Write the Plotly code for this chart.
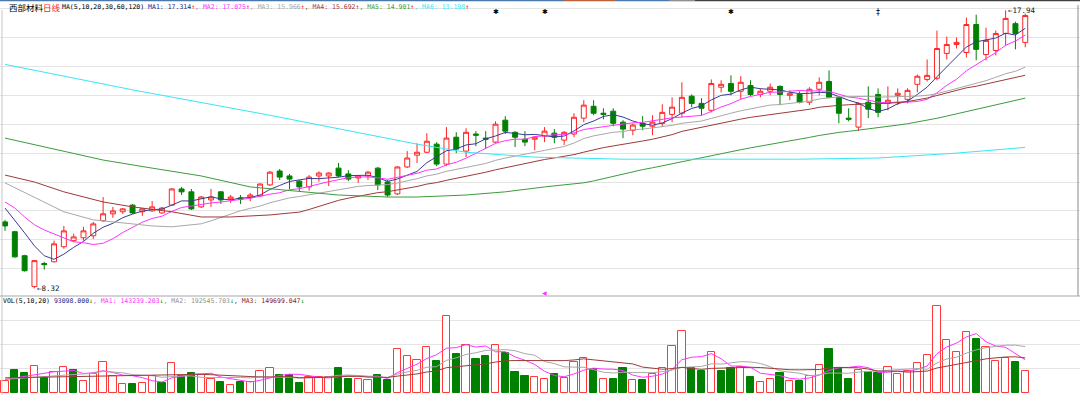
import plotly.graph_objects as go

# ---------------- data ----------------
opens = [10.62, 10.28, 9.45, 8.38, 9.18, 9.24, 9.76, 9.97, 10.07, 10.14,
         10.66, 10.90, 10.97, 11.20, 10.97, 11.00, 10.93, 11.20, 11.76, 11.66,
         11.14, 11.38, 11.66, 11.41, 11.45, 11.48, 11.52, 11.90, 12.38, 12.21,
         12.03, 11.83, 12.21, 12.21, 12.48, 12.28, 12.14, 12.21, 12.48, 12.00,
         11.59, 12.52, 12.93, 13.03, 13.31, 12.62, 13.55, 13.07, 13.66, 13.52,
         13.38, 14.14, 13.72, 13.48, 13.48, 13.59, 13.69, 13.45, 13.66, 14.21,
         14.62, 14.38, 14.45, 14.07, 13.79, 14.03, 13.93, 14.03, 14.34, 14.38,
         14.97, 14.72, 14.48, 15.28, 15.41, 15.14, 15.34, 15.03, 15.14, 15.31,
         15.00, 15.03, 14.76, 15.21, 15.48, 14.93, 14.21, 13.90, 14.76, 15.03,
         14.72, 15.00, 14.86, 15.38, 15.55, 15.59, 16.45, 16.76, 16.48, 17.45,
         16.41, 16.55, 17.14, 17.48, 16.83]
highs = [10.69, 10.31, 9.48, 9.30, 9.24, 9.97, 10.48, 10.21, 10.45, 10.62,
         11.48, 11.14, 11.10, 11.24, 11.10, 11.34, 11.14, 11.79, 11.83, 11.76,
         11.52, 11.76, 11.69, 11.55, 11.55, 11.62, 11.95, 12.38, 12.45, 12.28,
         12.07, 12.24, 12.37, 12.34, 12.66, 12.41, 12.24, 12.39, 12.52, 12.07,
         12.55, 13.07, 13.34, 13.69, 13.38, 13.90, 13.72, 13.86, 13.76, 13.76,
         14.10, 14.28, 13.76, 13.76, 13.58, 13.90, 13.83, 13.76, 14.38, 14.83,
         14.83, 14.55, 14.55, 14.14, 14.03, 14.28, 14.31, 14.69, 14.93, 15.45,
         15.03, 14.90, 15.55, 15.52, 15.69, 15.66, 15.52, 15.24, 15.41, 15.34,
         15.17, 15.14, 15.28, 15.62, 15.86, 14.97, 14.55, 14.76, 15.31, 15.24,
         15.31, 15.24, 15.24, 15.72, 16.24, 17.24, 17.03, 17.00, 17.69, 17.79,
         17.34, 17.24, 17.94, 17.55, 17.83]
lows = [10.31, 9.38, 8.90, 8.32, 8.97, 9.22, 9.69, 9.93, 9.97, 10.03,
        10.62, 10.76, 10.90, 10.90, 10.83, 10.97, 10.90, 11.17, 11.55, 11.03,
        11.10, 11.14, 11.24, 11.28, 11.24, 11.34, 11.48, 11.86, 12.07, 11.76,
        11.66, 11.70, 12.01, 11.86, 12.17, 12.03, 11.97, 12.07, 11.72, 11.48,
        11.55, 12.48, 12.66, 13.00, 12.55, 12.55, 13.00, 12.86, 13.24, 13.14,
        13.34, 13.66, 13.21, 13.24, 13.10, 13.38, 13.34, 13.28, 13.55, 14.07,
        14.31, 14.17, 13.93, 13.52, 13.62, 13.79, 13.62, 13.90, 14.07, 14.24,
        14.59, 14.31, 14.41, 15.10, 15.00, 14.86, 14.97, 14.93, 15.00, 14.66,
        14.83, 14.72, 14.66, 15.00, 14.90, 14.03, 14.10, 13.76, 14.21, 14.24,
        14.48, 14.66, 14.72, 15.10, 15.48, 15.52, 16.24, 16.62, 16.31, 16.21,
        16.21, 16.38, 16.72, 16.59, 16.66]
closes = [10.48, 9.41, 8.93, 9.28, 9.14, 9.86, 10.31, 10.10, 10.31, 10.55,
          10.90, 11.00, 11.07, 10.93, 11.07, 11.14, 11.10, 11.76, 11.66, 11.07,
          11.48, 11.48, 11.38, 11.48, 11.41, 11.55, 11.93, 12.34, 12.17, 12.10,
          11.83, 12.17, 12.31, 12.31, 12.21, 12.10, 12.21, 12.34, 11.90, 11.55,
          12.52, 12.83, 13.03, 13.41, 12.62, 13.52, 13.14, 13.72, 13.62, 13.48,
          14.00, 13.76, 13.55, 13.38, 13.55, 13.76, 13.55, 13.72, 14.24, 14.66,
          14.38, 14.34, 14.03, 13.83, 13.97, 13.93, 14.07, 14.41, 14.59, 14.93,
          14.72, 14.55, 15.41, 15.38, 15.14, 15.45, 15.03, 15.14, 15.28, 15.03,
          15.07, 14.76, 15.21, 15.45, 14.93, 14.38, 14.17, 14.72, 14.52, 14.41,
          14.83, 15.07, 15.17, 15.66, 15.69, 16.62, 16.76, 16.83, 17.45, 16.59,
          16.90, 17.14, 17.66, 17.14, 17.76]
volumes = [49000, 94600, 81800, 113000, 63000, 89000, 107500, 94600, 49000, 80500,
           130000, 72000, 39000, 37000, 40000, 69000, 42000, 126000, 69000, 83000,
           75000, 58000, 47000, 32000, 46000, 46000, 92000, 103000, 76000, 73000,
           42000, 66000, 66000, 66000, 105000, 59000, 59000, 55000, 73000, 55000,
           182000, 152000, 135000, 192000, 133000, 318000, 163000, 198000, 141000, 155000,
           198000, 166000, 89000, 72000, 66000, 58000, 78000, 63000, 130000, 146000,
           99000, 59000, 59000, 102000, 53000, 53000, 80500, 105000, 196000, 256000,
           105000, 92000, 169000, 90000, 103000, 106000, 66000, 45000, 58000, 85000,
           49000, 50000, 71000, 117000, 183000, 103000, 58000, 96000, 86000, 85000,
           106000, 80500, 92000, 126000, 156000, 362000, 221000, 171000, 255000, 224000,
           192000, 132000, 145000, 128000, 93098]
vol_red = [1, 0, 0, 1, 0, 1, 1, 0, 1, 1,
           1, 1, 1, 0, 1, 1, 0, 1, 0, 0,
           1, 1, 0, 1, 0, 1, 1, 1, 0, 0,
           0, 1, 1, 1, 0, 0, 1, 1, 0, 0,
           1, 1, 1, 1, 0, 1, 0, 1, 0, 0,
           1, 0, 0, 0, 1, 1, 0, 1, 1, 1,
           0, 1, 0, 0, 1, 0, 1, 1, 1, 1,
           0, 0, 1, 0, 0, 1, 0, 1, 1, 0,
           1, 0, 1, 1, 0, 0, 0, 1, 0, 0,
           1, 1, 1, 1, 1, 1, 1, 1, 1, 0,
           1, 1, 1, 0, 1]

# moving-average values before the window is full
ma5_lead_idx = [0, 1, 2, 3]
ma5_lead_val = [11.10, 10.69, 10.24, 9.79]
ma10_lead_idx = [0, 1, 2, 3, 4, 5, 6, 7, 8]
ma10_lead_val = [11.31, 11.10, 10.79, 10.52, 10.34, 10.21, 10.07, 9.93, 9.90]
ma20_lead_idx = [0, 3, 6, 9, 12, 15, 17]
ma20_lead_val = [11.97, 11.48, 10.97, 10.69, 10.59, 10.48, 10.45]
ma30_lead_idx = [0, 3, 6, 10, 13, 17, 20, 23, 27]
ma30_lead_val = [12.24, 12.00, 11.66, 11.31, 11.14, 10.97, 10.79, 10.79, 10.86]
ma60_lead_idx = [0, 5, 10, 15, 20, 25, 30, 34, 39, 42, 47, 51, 55]
ma60_lead_val = [13.52, 13.14, 12.76, 12.48, 12.21, 11.83, 11.66, 11.55, 11.48, 11.48, 11.55, 11.66, 11.83]
ma120_lead_idx = [0, 13, 27, 42, 47, 54, 63, 71, 81, 89, 97, 104]
ma120_lead_val = [16.07, 15.19, 14.31, 13.31, 13.03, 12.86, 12.79, 12.79, 12.79, 12.83, 13.00, 13.198]

vma5_lead_idx = [0, 1, 2, 3]
vma5_lead_val = [56000, 62000, 70000, 76000]
vma10_lead_idx = [0, 2, 4, 6, 8]
vma10_lead_val = [57000, 62000, 68000, 74000, 79000]
vma20_lead_idx = [0, 5, 10, 15]
vma20_lead_val = [63000, 67000, 70000, 73000]

ma_periods = [5, 10, 20, 30, 60, 120]
ma_title_vals = ["17.314", "17.075", "15.966", "15.692", "14.901", "13.198"]
vol_title_vals = ["93098.000", "143239.203", "192545.703", "149699.047"]
low_label = "8.32"
high_label = "17.94"
mine_idx = [50, 55, 74]
mine2_idx = [89]
pink_mark_idx = [55]

price_grid = [9, 10, 11, 12, 13, 14, 15, 16, 17, 18]
vol_grid = [100000, 200000, 300000]

# ---------------- styling / geometry ----------------
W, H = 1080, 395
X0, DX = 5.0, 9.81
RED = "#FF2424"
GREEN = "#008000"
MA_COLORS = ["#3A3A96", "#FF33FF", "#A8A8A8", "#9E3A3A", "#3C9C3C", "#38E6F4"]
VMA_COLORS = ["#FF33FF", "#A8A8A8", "#9E3A3A"]

main_top_px, main_bot_px = 3, 292
P_TOP, P_BOT = 18.194, 8.194
vol_top_px, vol_bot_px = 302, 393
V_PER_PX = 4150

def py(px):
    return 1 - px / H

idx = list(range(len(closes)))


def ma_series(vals, n, lead_idx, lead_val):
    xs, ys = list(lead_idx), list(lead_val)
    for i in range(n - 1, len(vals)):
        xs.append(i)
        ys.append(sum(vals[i - n + 1:i + 1]) / n)
    return xs, ys


fig = go.Figure()

# MA lines (main)
leads = [(ma5_lead_idx, ma5_lead_val), (ma10_lead_idx, ma10_lead_val),
         (ma20_lead_idx, ma20_lead_val), (ma30_lead_idx, ma30_lead_val),
         (ma60_lead_idx, ma60_lead_val), (ma120_lead_idx, ma120_lead_val)]
for n, (li, lv), col in zip(ma_periods, leads, MA_COLORS):
    xs, ys = ma_series(closes, n, li, lv)
    fig.add_trace(go.Scatter(x=xs, y=ys, mode="lines", line=dict(color=col, width=1),
                             hoverinfo="skip", showlegend=False, xaxis="x", yaxis="y"))

# candlesticks
fig.add_trace(go.Candlestick(
    x=idx, open=opens, high=highs, low=lows, close=closes,
    increasing=dict(line=dict(color=RED, width=1), fillcolor="white"),
    decreasing=dict(line=dict(color=GREEN, width=1), fillcolor=GREEN),
    whiskerwidth=0, showlegend=False, hoverinfo="skip", xaxis="x", yaxis="y"))

# volume bars
fig.add_trace(go.Bar(
    x=idx, y=volumes, width=0.74,
    marker=dict(color=["white" if r else GREEN for r in vol_red],
                line=dict(color=["#FF3A3A" if r else GREEN for r in vol_red], width=1)),
    showlegend=False, hoverinfo="skip", xaxis="x2", yaxis="y2"))

vleads = [(vma5_lead_idx, vma5_lead_val), (vma10_lead_idx, vma10_lead_val),
          (vma20_lead_idx, vma20_lead_val)]
for n, (li, lv), col in zip([5, 10, 20], vleads, VMA_COLORS):
    xs, ys = ma_series(volumes, n, li, lv)
    fig.add_trace(go.Scatter(x=xs, y=ys, mode="lines", line=dict(color=col, width=1),
                             hoverinfo="skip", showlegend=False, xaxis="x2", yaxis="y2"))

x_range = [(0 - X0) / DX, (W - X0) / DX]
GRID = "#E4E4E4"
fig.update_layout(
    width=W, height=H, margin=dict(l=0, r=0, t=0, b=0),
    paper_bgcolor="white", plot_bgcolor="white", showlegend=False,
    boxgap=0.28, bargap=0,
    xaxis=dict(domain=[0, 1], range=x_range, visible=False, rangeslider=dict(visible=False),
               anchor="y"),
    xaxis2=dict(domain=[0, 1], range=x_range, visible=False, matches="x", anchor="y2"),
    yaxis=dict(domain=[py(main_bot_px), py(main_top_px)], range=[P_BOT, P_TOP],
               tickvals=price_grid, showticklabels=False, ticks="", gridcolor=GRID,
               gridwidth=1, zeroline=False, showline=False, fixedrange=True),
    yaxis2=dict(domain=[py(vol_bot_px), py(vol_top_px)],
                range=[0, (vol_bot_px - vol_top_px) * V_PER_PX],
                tickvals=vol_grid, showticklabels=False, ticks="", gridcolor=GRID,
                gridwidth=1, zeroline=False, showline=False, fixedrange=True),
)

MONO = "DejaVu Sans Mono"
CJK = "Noto Sans CJK SC"
ann = []

# main title
ann.append(dict(xref="paper", yref="paper", x=7 / W, y=py(7), xanchor="left", yanchor="middle",
                text='西部材料<span style="color:#FF2020">日线</span>', showarrow=False,
                font=dict(family=CJK, size=8.5, color="#000000")))
parts = ['MA(' + ",".join(str(p) for p in ma_periods) + ') ']
for k, (v, col) in enumerate(zip(ma_title_vals, MA_COLORS)):
    sep = "" if k == 0 else '<span style="color:%s">, </span>' % col
    parts.append('%s<span style="color:%s">MA%d: %s</span><span style="color:#FF0000">↑</span>'
                 % (sep, "#1E1E90" if k == 0 else col, k + 1, v))
ann.append(dict(xref="paper", yref="paper", x=60 / W, y=py(7), xanchor="left", yanchor="middle",
                text="".join(parts), showarrow=False,
                font=dict(family=MONO, size=6.5, color="#000000")))

# volume title
vcols = ["#1E1E90", "#FF33FF", "#909090", "#8B1A1A"]
vparts = ['VOL(5,10,20) <span style="color:%s">%s</span><span style="color:#00A000">↓</span>'
          % (vcols[0], vol_title_vals[0])]
for k in range(1, 4):
    vparts.append('<span style="color:%s">, MA%d: %s</span><span style="color:#00A000">↓</span>'
                  % (vcols[k], k, vol_title_vals[k]))
ann.append(dict(xref="paper", yref="paper", x=1 / W, y=py(301), xanchor="left", yanchor="middle",
                text="".join(vparts), showarrow=False,
                font=dict(family=MONO, size=6.5, color="#000000")))

# extreme labels
lo_i = min(idx, key=lambda i: lows[i])
hi_i = max(idx, key=lambda i: highs[i])
ann.append(dict(xref="x", yref="y", x=lo_i + 0.05, y=lows[lo_i], xanchor="left", yanchor="middle",
                text="←" + low_label, showarrow=False,
                font=dict(family=MONO, size=7.5, color="#202020")))
ann.append(dict(xref="x", yref="y", x=hi_i + 0.05, y=highs[hi_i], xanchor="left", yanchor="middle",
                text="←" + high_label, showarrow=False,
                font=dict(family=MONO, size=7.5, color="#202020")))

# info markers
for i in mine_idx:
    ann.append(dict(xref="x", yref="paper", x=i, y=py(12), xanchor="center", yanchor="middle",
                    text="✱", showarrow=False, font=dict(family="DejaVu Sans", size=7, color="#000")))
for i in mine2_idx:
    ann.append(dict(xref="x", yref="paper", x=i, y=py(12), xanchor="center", yanchor="middle",
                    text="‡", showarrow=False, font=dict(family="DejaVu Sans", size=8, color="#000")))
for i in pink_mark_idx:
    ann.append(dict(xref="x", yref="paper", x=i, y=py(292), xanchor="center", yanchor="middle",
                    text="◀", showarrow=False, font=dict(family="DejaVu Sans", size=6, color="#FF33FF")))
fig.update_layout(annotations=ann)

# frame decorations
shapes = []
def hline(x0, x1, ypx, color, w):
    shapes.append(dict(type="line", xref="paper", yref="paper", x0=x0 / W, x1=x1 / W,
                       y0=py(ypx), y1=py(ypx), line=dict(color=color, width=w)))
def vline(xpx, y0, y1, color, w):
    shapes.append(dict(type="line", xref="paper", yref="paper", x0=xpx / W, x1=xpx / W,
                       y0=py(y0), y1=py(y1), line=dict(color=color, width=w)))

for (a, b, c) in [(0, 563, "#4A78A8"), (563, 616, "#B8603A"), (616, 669, "#4A78A8"),
                  (669, 695, "#909090"), (695, 1080, "#404040")]:
    hline(a, b, 0.6, c, 1.5)
vline(2, 10, 395, "#C8C8C8", 1)
vline(1078, 5, 296, "#8A8A8A", 1)
hline(0, 1080, 296, "#A8A8A8", 1.2)
fig.update_layout(shapes=shapes)

fig.write_html("out.html", config={"displayModeBar": False},
               post_script="document.body.style.margin='0px';document.body.style.padding='0px';"
                           "document.body.style.overflow='hidden';")
